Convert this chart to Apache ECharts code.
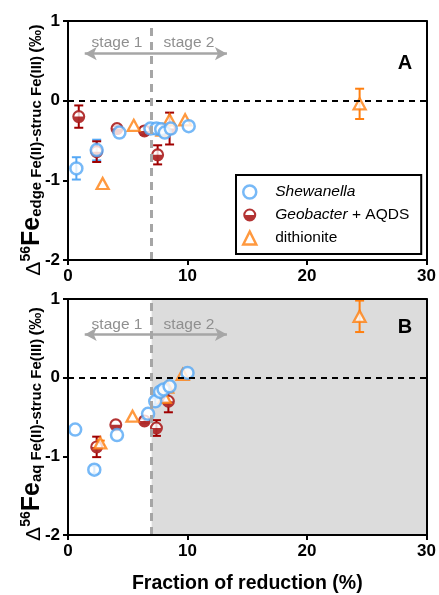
<!DOCTYPE html>
<html><head><meta charset="utf-8">
<script src="https://cdn.jsdelivr.net/npm/echarts@6/dist/echarts.min.js"></script>
<style>html,body{margin:0;padding:0;background:#fff}#c{width:439px;height:595px}</style>
</head><body><div id="c"></div>
<script>
// ---- data: [fraction of reduction %, delta56Fe, error] ----
const xTicks = [0, 10, 20, 30];
const yTicks = [-2, -1, 0, 1];
const stageBoundary = 7;

const shewA = [[0.7,-0.85,0.14],[2.4,-0.62,0.13],[4.3,-0.40,0],[6.9,-0.35,0.05],[7.4,-0.35,0.06],[7.8,-0.36,0.07],[8.1,-0.40,0.05],[8.6,-0.35,0],[10.1,-0.32,0]];
const geoA   = [[0.9,-0.20,0.14],[2.4,-0.64,0.13],[4.1,-0.35,0.03],[6.4,-0.38,0.05],[7.5,-0.68,0.12],[8.5,-0.35,0.20]];
const dithA  = [[2.9,-1.04,0],[5.5,-0.31,0],[7.9,-0.37,0.03],[8.5,-0.24,0],[9.8,-0.24,0],[24.4,-0.04,0.19]];

const shewB = [[0.6,-0.66,0],[2.2,-1.17,0.05],[4.1,-0.73,0],[6.7,-0.46,0],[7.3,-0.30,0.04],[7.7,-0.18,0.05],[8.0,-0.15,0.05],[8.5,-0.11,0],[10.0,0.06,0]];
const geoB   = [[2.4,-0.88,0.13],[4.0,-0.60,0],[6.4,-0.55,0.03],[7.4,-0.64,0.10],[8.4,-0.30,0.14]];
const dithB  = [[2.7,-0.83,0.03],[5.4,-0.49,0],[8.1,-0.25,0],[8.3,-0.12,0],[9.6,0.04,0],[24.4,0.78,0.20]];

const BLUE = '#55a8f5', RED = '#a00000', ORANGE = '#ff7f0f', GREY = '#a6a6a6';
const FONT = "'Liberation Sans', Arial, sans-serif";
const GEO_PATH = 'path://M0,-10A10,10 0 1,1 0,10A10,10 0 1,1 0,-10ZM0,-6.8A6.8,6.8 0 1,0 0,6.8A6.8,6.8 0 1,0 0,-6.8ZM-6.8,0A6.8,6.8 0 0,0 6.8,0Z';

const chart = echarts.init(document.getElementById('c'), null, {renderer:'canvas'});

function errSeries(data, color, gi){
  return {
    type:'custom', xAxisIndex:gi, yAxisIndex:gi, z:2, silent:true,
    encode:{x:0,y:1},
    data:data,
    renderItem:function(params, api){
      const x=api.value(0), y=api.value(1), e=api.value(2);
      if(!e) return null;
      const t=api.coord([x,y+e]), b=api.coord([x,y-e]);
      const w=4.5, st={stroke:color, lineWidth:2};
      return {type:'group', children:[
        {type:'line', shape:{x1:t[0],y1:t[1],x2:b[0],y2:b[1]}, style:st},
        {type:'line', shape:{x1:t[0]-w,y1:t[1],x2:t[0]+w,y2:t[1]}, style:st},
        {type:'line', shape:{x1:b[0]-w,y1:b[1],x2:b[0]+w,y2:b[1]}, style:st}
      ]};
    }
  };
}
function markerSeries(name, data, gi){
  const base = {xAxisIndex:gi, yAxisIndex:gi, type:'scatter', name:name, z:4, symbolSize:12, data:data.map(d=>[d[0],d[1]])};
  if(name==='Shewanella') return Object.assign(base,{symbol:'circle', itemStyle:{color:'#fff', borderColor:BLUE, borderWidth:2.5}});
  if(name==='dithionite') return Object.assign(base,{symbol:'triangle', symbolSize:[12,11], itemStyle:{color:'#fff', borderColor:ORANGE, borderWidth:2.3}});
  return Object.assign(base,{symbol:GEO_PATH, symbolSize:13, itemStyle:{color:RED, borderWidth:0}});
}
function bgSeries(data, gi){
  return {type:'scatter', name:'geoBg', xAxisIndex:gi, yAxisIndex:gi, z:3, symbol:'circle', symbolSize:12, silent:true,
    itemStyle:{color:'#fff'}, data:data.map(d=>[d[0],d[1]])};
}
function refSeries(gi, arrowY, shade){
  const s = {type:'scatter', xAxisIndex:gi, yAxisIndex:gi, data:[], silent:true, z:1,
    markLine:{silent:true, symbol:'none', label:{show:false}, animation:false, data:[
      {yAxis:0, lineStyle:{color:'#000', type:[6,5], width:2}},
      {xAxis:stageBoundary, lineStyle:{color:GREY, type:[8,6], width:3}},
      [{coord:[1.4,arrowY], symbol:'arrow', symbolSize:[10,12]},{coord:[13.3,arrowY], symbol:'arrow', symbolSize:[10,12], lineStyle:{color:GREY,width:2.5,type:'solid'}}]
    ]}
  };
  if(shade) s.markArea = {silent:true, itemStyle:{color:'#dcdcdc'}, data:[[{xAxis:stageBoundary},{xAxis:xTicks[xTicks.length-1]}]]};
  return s;
}

const grids = [{left:68, top:21, width:360, height:239},{left:68, top:299, width:360, height:240}];
const axLabel = {color:'#000', fontWeight:'bold', fontSize:17, fontFamily:FONT};
function xA(gi, pos, show){
  return {type:'value', gridIndex:gi, position:pos, min:xTicks[0], max:xTicks[xTicks.length-1], interval:10, z:10,
    axisLine:{show:true, onZero:false, lineStyle:{color:'#000', width:2}},
    axisTick:{show:show, length:5, lineStyle:{width:2, color:'#000'}},
    axisLabel:{show:show, margin:8, ...axLabel}, splitLine:{show:false}};
}
function yA(gi, pos, show){
  return {type:'value', gridIndex:gi, position:pos, min:yTicks[0], max:yTicks[yTicks.length-1], interval:1, z:10,
    axisLine:{show:true, onZero:false, lineStyle:{color:'#000', width:2}},
    axisTick:{show:show, length:5, lineStyle:{width:2, color:'#000'}},
    axisLabel:{show:show, margin:8, ...axLabel}, splitLine:{show:false}};
}
const xAxes = [xA(0,'bottom',true), xA(1,'bottom',true), xA(0,'top',false), xA(1,'top',false)];
xAxes[1].name = 'Fraction of reduction (%)';
xAxes[1].nameLocation = 'middle';
xAxes[1].nameGap = 39;
xAxes[1].nameTextStyle = {color:'#000', fontWeight:'bold', fontSize:19.5, fontFamily:FONT};
const yAxes = [yA(0,'left',true), yA(1,'left',true), yA(0,'right',false), yA(1,'right',false)];

function yTitle(x, y, sub){
  return {type:'text', x:x, y:y, rotation:Math.PI/2, z:20,
    style:{text:'{d|\u0394}{sup|56}{fe|Fe}{sub|'+sub+' Fe(II)-struc Fe(III)} {p|(\u2030)}',
      align:'center', verticalAlign:'middle', fill:'#000',
      rich:{
        d:{fontSize:21, fontFamily:FONT, fill:'#000', verticalAlign:'bottom'},
        sup:{fontSize:14, fontWeight:'bold', fontFamily:FONT, fill:'#000', verticalAlign:'top'},
        fe:{fontSize:25, fontWeight:'bold', fontFamily:FONT, fill:'#000', verticalAlign:'bottom'},
        sub:{fontSize:15, fontWeight:'bold', fontFamily:FONT, fill:'#000', verticalAlign:'bottom'},
        p:{fontSize:17, fontWeight:'bold', fontFamily:FONT, fill:'#000', verticalAlign:'bottom'}
      }}};
}
function stageText(x, y, t){
  return {type:'text', x:x, y:y, z:20, style:{text:t, align:'center', verticalAlign:'middle', fill:'#8f8f8f', font:'15.5px '+FONT}};
}
function panelLabel(x,y,t){
  return {type:'text', x:x, y:y, z:20, style:{text:t, align:'center', verticalAlign:'middle', fill:'#000', font:'bold 20px '+FONT}};
}

const option = {
  animation:false,
  grid:grids,
  xAxis:xAxes,
  yAxis:yAxes,
  legend:{
    selectedMode:false, orient:'vertical', left:236, top:175,
    padding:[9,12,8,6], itemGap:7, itemWidth:13, itemHeight:13,
    borderColor:'#000', borderWidth:2, backgroundColor:'#fff', z:30,
    textStyle:{color:'#000', fontSize:15.5, fontFamily:FONT,
      rich:{s:{width:14}, i:{fontStyle:'italic', fontSize:15.5, fontFamily:FONT, color:'#000'}, n:{fontSize:15.5, fontFamily:FONT, color:'#000'}}},
    formatter:function(n){
      if(n==='Shewanella') return '{s|}{i|Shewanella}';
      if(n==='Geobacter') return '{s|}{i|Geobacter}{n| + AQDS}';
      return '{s|}{n|'+n+'}';
    },
    data:[
      {name:'Shewanella', icon:'circle', itemStyle:{color:'#fff', borderColor:BLUE, borderWidth:2.5}},
      {name:'Geobacter', icon:GEO_PATH, itemStyle:{color:RED, borderWidth:0}},
      {name:'dithionite', icon:'triangle', itemStyle:{color:'#fff', borderColor:ORANGE, borderWidth:2.5}}
    ]
  },
  graphic:[
    yTitle(32,150,'edge'), yTitle(32,424,'aq'),
    stageText(117,43,'stage 1'), stageText(189,43,'stage 2'),
    stageText(117,325,'stage 1'), stageText(189,325,'stage 2'),
    panelLabel(405,63,'A'), panelLabel(405,327,'B')
  ],
  series:[
    refSeries(0, 0.59, false), refSeries(1, 0.55, true),
    errSeries(shewA, BLUE, 0), errSeries(geoA, RED, 0), errSeries(dithA, ORANGE, 0),
    errSeries(shewB, BLUE, 1), errSeries(geoB, RED, 1), errSeries(dithB, ORANGE, 1),
    bgSeries(geoA,0), bgSeries(geoB,1),
    markerSeries('Geobacter', geoA, 0), markerSeries('Geobacter', geoB, 1),
    markerSeries('dithionite', dithA, 0), markerSeries('dithionite', dithB, 1),
    markerSeries('Shewanella', shewA, 0), markerSeries('Shewanella', shewB, 1)
  ]
};
chart.setOption(option);
</script></body></html>
